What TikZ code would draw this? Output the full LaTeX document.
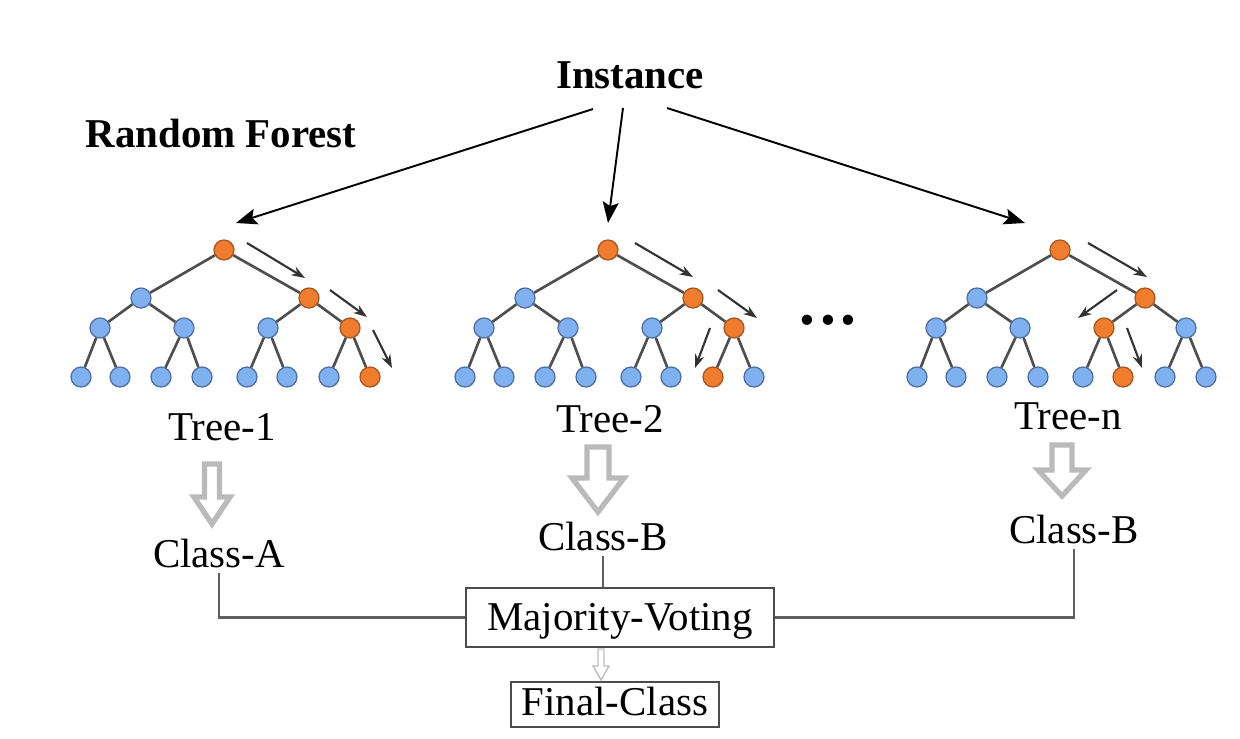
\documentclass[tikz,border=0pt]{standalone}
\usepackage{fontspec}
\setmainfont{Liberation Serif}
\usetikzlibrary{arrows.meta}

\definecolor{leafblue}{RGB}{127,176,240}
\definecolor{leafblueedge}{RGB}{78,108,158}
\definecolor{pathorange}{RGB}{240,124,46}
\definecolor{pathorangeedge}{RGB}{168,84,30}
\definecolor{edgegray}{RGB}{78,78,78}
\definecolor{blockgray}{RGB}{186,186,186}
\definecolor{linkgray}{RGB}{95,95,95}

\tikzset{
  treenode/.style={circle, draw=leafblueedge, fill=leafblue, line width=0.7pt,
                   minimum size=0.40cm, inner sep=0pt},
  hot/.style={draw=pathorangeedge, fill=pathorange},
  treeedge/.style={draw=edgegray, line width=1.5pt},
  walk/.style={draw=black!80, line width=1.2pt, -{Stealth[length=0.27cm,width=0.19cm]}},
  feed/.style={draw=black, line width=1.1pt, -{Stealth[length=0.42cm,width=0.32cm,inset=0.08cm]}},
  txt/.style={font=\fontsize{23.3pt}{28pt}\selectfont, anchor=base, inner sep=0.1cm},
  bigtxt/.style={txt, font=\fontsize{23.3pt}{28pt}\selectfont\bfseries},
  block/.style={draw=blockgray, fill=white, line width=3pt, line join=miter},
  thinblock/.style={draw=black!25, fill=white, line width=0.8pt, line join=miter},
  link/.style={draw=linkgray, line width=1.2pt},
  votebox/.style={txt, draw=black!70, line width=1.1pt, inner xsep=0pt, inner ysep=0pt},
  % nodes on the decision path of each tree
  T1-r/.style=hot, T1-b/.style=hot, T1-bb/.style=hot, T1-bbb/.style=hot,
  T2-r/.style=hot, T2-b/.style=hot, T2-bb/.style=hot, T2-bba/.style=hot,
  Tn-r/.style=hot, Tn-b/.style=hot, Tn-ba/.style=hot, Tn-bab/.style=hot,
}

% full binary tree of depth 3; #1 = name prefix, (#2,#3) = root position
\newcommand\drawforesttree[3]{%
  \begin{scope}[shift={(#2,#3)}]
    \node[treenode,#1-r/.try]   (#1-r)   at (0,0)     {};
    \node[treenode,#1-a/.try]   (#1-a)   at (-83,48)  {};
    \node[treenode,#1-b/.try]   (#1-b)   at (85,48)   {};
    \node[treenode,#1-aa/.try]  (#1-aa)  at (-124,78) {};
    \node[treenode,#1-ab/.try]  (#1-ab)  at (-40,78)  {};
    \node[treenode,#1-ba/.try]  (#1-ba)  at (44,78)   {};
    \node[treenode,#1-bb/.try]  (#1-bb)  at (126,78)  {};
    \node[treenode,#1-aaa/.try] (#1-aaa) at (-143,127) {};
    \node[treenode,#1-aab/.try] (#1-aab) at (-104,127) {};
    \node[treenode,#1-aba/.try] (#1-aba) at (-63,127)  {};
    \node[treenode,#1-abb/.try] (#1-abb) at (-22,127)  {};
    \node[treenode,#1-baa/.try] (#1-baa) at (23,127)   {};
    \node[treenode,#1-bab/.try] (#1-bab) at (63,127)   {};
    \node[treenode,#1-bba/.try] (#1-bba) at (105,127)  {};
    \node[treenode,#1-bbb/.try] (#1-bbb) at (146,127)  {};
    \draw[treeedge] (#1-r) -- (#1-a)  (#1-r) -- (#1-b)
      (#1-a) -- (#1-aa)  (#1-a) -- (#1-ab)  (#1-b) -- (#1-ba)  (#1-b) -- (#1-bb)
      (#1-aa) -- (#1-aaa) (#1-aa) -- (#1-aab) (#1-ab) -- (#1-aba) (#1-ab) -- (#1-abb)
      (#1-ba) -- (#1-baa) (#1-ba) -- (#1-bab) (#1-bb) -- (#1-bba) (#1-bb) -- (#1-bbb);
  \end{scope}}

% hollow downward block arrow: style, x, top, neck, tip, shaft half width, head half width
\newcommand\downblock[7]{%
  \draw[#1] (#2-#6,#3) -- (#2+#6,#3) -- (#2+#6,#4) -- (#2+#7,#4) -- (#2,#5)
    -- (#2-#7,#4) -- (#2-#6,#4) -- cycle;}

\begin{document}
\begin{tikzpicture}[x=0.02cm, y=-0.02cm]
  \useasboundingbox (0,0) rectangle (1240,738);
  \fill[white] (0,0) rectangle (1240,738);

  % titles
  \node[bigtxt] (inst) at (630,88)  {Instance};
  \node[bigtxt] (rf)   at (221,147) {Random Forest};

  % the trees
  \drawforesttree{T1}{224}{250}
  \drawforesttree{T2}{608}{250}
  \drawforesttree{Tn}{1060}{250}

  % instance sent to every tree
  \coordinate (f1s) at (593,109);  \coordinate (f1e) at (236,223);
  \coordinate (f2s) at (623,108);  \coordinate (f2e) at (608,223);
  \coordinate (f3s) at (667,108);  \coordinate (f3e) at (1025,223);
  \draw[feed] (f1s) -- (f1e);
  \draw[feed] (f2s) -- (f2e);
  \draw[feed] (f3s) -- (f3e);

  % decision walk through each tree
  \coordinate (w11s) at (247,243); \coordinate (w11e) at (305,278);
  \coordinate (w12s) at (330,290); \coordinate (w12e) at (367,317);
  \coordinate (w13s) at (373,330); \coordinate (w13e) at (392,368);
  \coordinate (w21s) at (635,243); \coordinate (w21e) at (693,277);
  \coordinate (w22s) at (718,290); \coordinate (w22e) at (757,318);
  \coordinate (w23s) at (710,328); \coordinate (w23e) at (695,368);
  \coordinate (w31s) at (1088,243); \coordinate (w31e) at (1147,277);
  \coordinate (w32s) at (1117,290); \coordinate (w32e) at (1078,318);
  \coordinate (w33s) at (1127,328); \coordinate (w33e) at (1142,368);
  \foreach \w in {11,12,13,21,22,23,31,32,33}
    \draw[walk] (w\w s) -- (w\w e);

  % ellipsis between the trees
  \node[font=\fontsize{36pt}{36pt}\selectfont\bfseries, inner sep=0pt] (dots)
    at (828,320) {.\kern2.6pt.\kern2.6pt.};

  % tree names and their votes
  \node[txt] (t1)  at (222,440)  {Tree-1};
  \node[txt] (t2)  at (610,432)  {Tree-2};
  \node[txt] (tn)  at (1068,429) {Tree-n};
  \node[txt] (cA)  at (219,567)  {Class-A};
  \node[txt] (cB2) at (603,550)  {Class-B};
  \node[txt] (cBn) at (1074,543) {Class-B};

  \downblock{block}{212}{464}{497}{524}{7.5}{18}
  \downblock{block}{598}{447}{478}{512}{11}{26}
  \downblock{block}{1062}{445}{470}{496}{10}{24}

  % aggregation
  \node[votebox, minimum width=6.16cm, text height=0.84cm, text depth=0.34cm]
    (mv) at (620,630) {Majority-Voting};
  \node[votebox, minimum width=4.16cm, text height=0.66cm, text depth=0.24cm]
    (fc) at (615,715) {Final-Class};

  \draw[link] (cA.south) |- (mv.west);
  \draw[link] (cB2.south) -- (cB2.south |- mv.north);
  \draw[link] (cBn.south) |- (mv.east);

  \downblock{thinblock}{601}{649}{666}{680}{3}{8}
\end{tikzpicture}
\end{document}
